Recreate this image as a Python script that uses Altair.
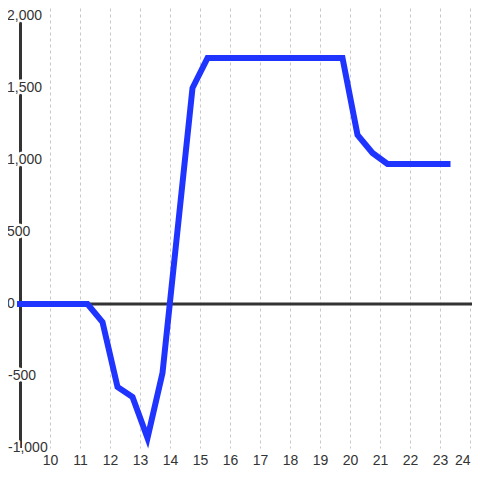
import altair as alt
import pandas as pd

# ---- data ----
x_vals = [9, 11.25, 11.75, 12.25, 12.75, 13.25, 13.75, 14.75, 15.25, 19.75, 20.25, 20.75, 21.25, 23.25]
y_vals = [0, 0, -125, -576, -646, -930, -479, 1500, 1708, 1708, 1174, 1049, 972, 972]
x_ticks = list(range(10, 25))
y_grid = list(range(-1000, 2001, 250))
y_label_vals = [-1000, -500, 0, 500, 1000, 1500, 2000]
y_label_text = ["-1,000", "-500", "0", "500", "1,000", "1,500", "2,000"]

# ---- layout ----
W, H = 452, 440
XDOM = [9, 9 + W / 30]
YDOM = [-1000, 2000 + 8 / 0.144]
FONT = "Liberation Sans"
LABEL_COLOR = "#333333"
GRID_COLOR = "#c8c8c8"
BLUE = "#1f35ff"

line_df = pd.DataFrame({"x": x_vals, "y": y_vals})
lab_df = pd.DataFrame({"v": y_label_vals, "t": y_label_text})

xs = alt.Scale(domain=XDOM, nice=False, zero=False)
ys = alt.Scale(domain=YDOM, nice=False, zero=False)

line = alt.Chart(line_df).mark_line(
    color=BLUE, strokeWidth=6, strokeCap="square", strokeJoin="miter", clip=False
).encode(
    x=alt.X("x:Q", scale=xs, axis=alt.Axis(
        values=x_ticks, grid=True, gridDash=[3, 3], gridColor=GRID_COLOR, gridWidth=1,
        domain=False, ticks=False, tickSize=0, labelPadding=5, labelFontSize=14,
        labelColor=LABEL_COLOR, labelFont=FONT, labelFlush=3, title=None, format="d")),
    y=alt.Y("y:Q", scale=ys, axis=alt.Axis(
        values=y_grid, grid=True, gridColor=GRID_COLOR, gridWidth=1, labels=False,
        domain=False, ticks=False, title=None)),
)

zero = alt.Chart(pd.DataFrame({"v": [0]})).mark_rule(color="#333333", strokeWidth=3).encode(
    y=alt.Y("v:Q", axis=None), x=alt.value(0), x2=alt.value(W)
)

axis_line = alt.Chart(pd.DataFrame({"a": [max(y_label_vals)], "b": [min(y_label_vals)]})).mark_rule(
    color="#333333", strokeWidth=3
).encode(x=alt.value(0.5), y=alt.Y("a:Q", axis=None), y2="b:Q")


def labels(cond, xpos, halo):
    if halo:
        mk = alt.Chart(lab_df).mark_text(
            align="left", baseline="middle", fontSize=14, font=FONT,
            fill="white", stroke="white", strokeWidth=5, strokeJoin="round")
    else:
        mk = alt.Chart(lab_df).mark_text(
            align="left", baseline="middle", fontSize=14, font=FONT, color=LABEL_COLOR)
    return mk.transform_filter(cond).encode(
        x=alt.value(xpos), y=alt.Y("v:Q", axis=None), text="t:N")


chart = alt.layer(
    zero,
    axis_line,
    labels("datum.v >= 0", -13, True),
    labels("datum.v < 0", -12, True),
    labels("datum.v >= 0", -13, False),
    labels("datum.v < 0", -12, False),
    line,
).properties(
    width=W, height=H,
    padding={"left": 12, "top": 0, "right": 0, "bottom": 24},
    autosize=alt.AutoSizeParams(type="none"),
    background="white",
).configure_view(stroke=None)

chart.save("out.html", embed_options={"renderer": "svg", "actions": False})
